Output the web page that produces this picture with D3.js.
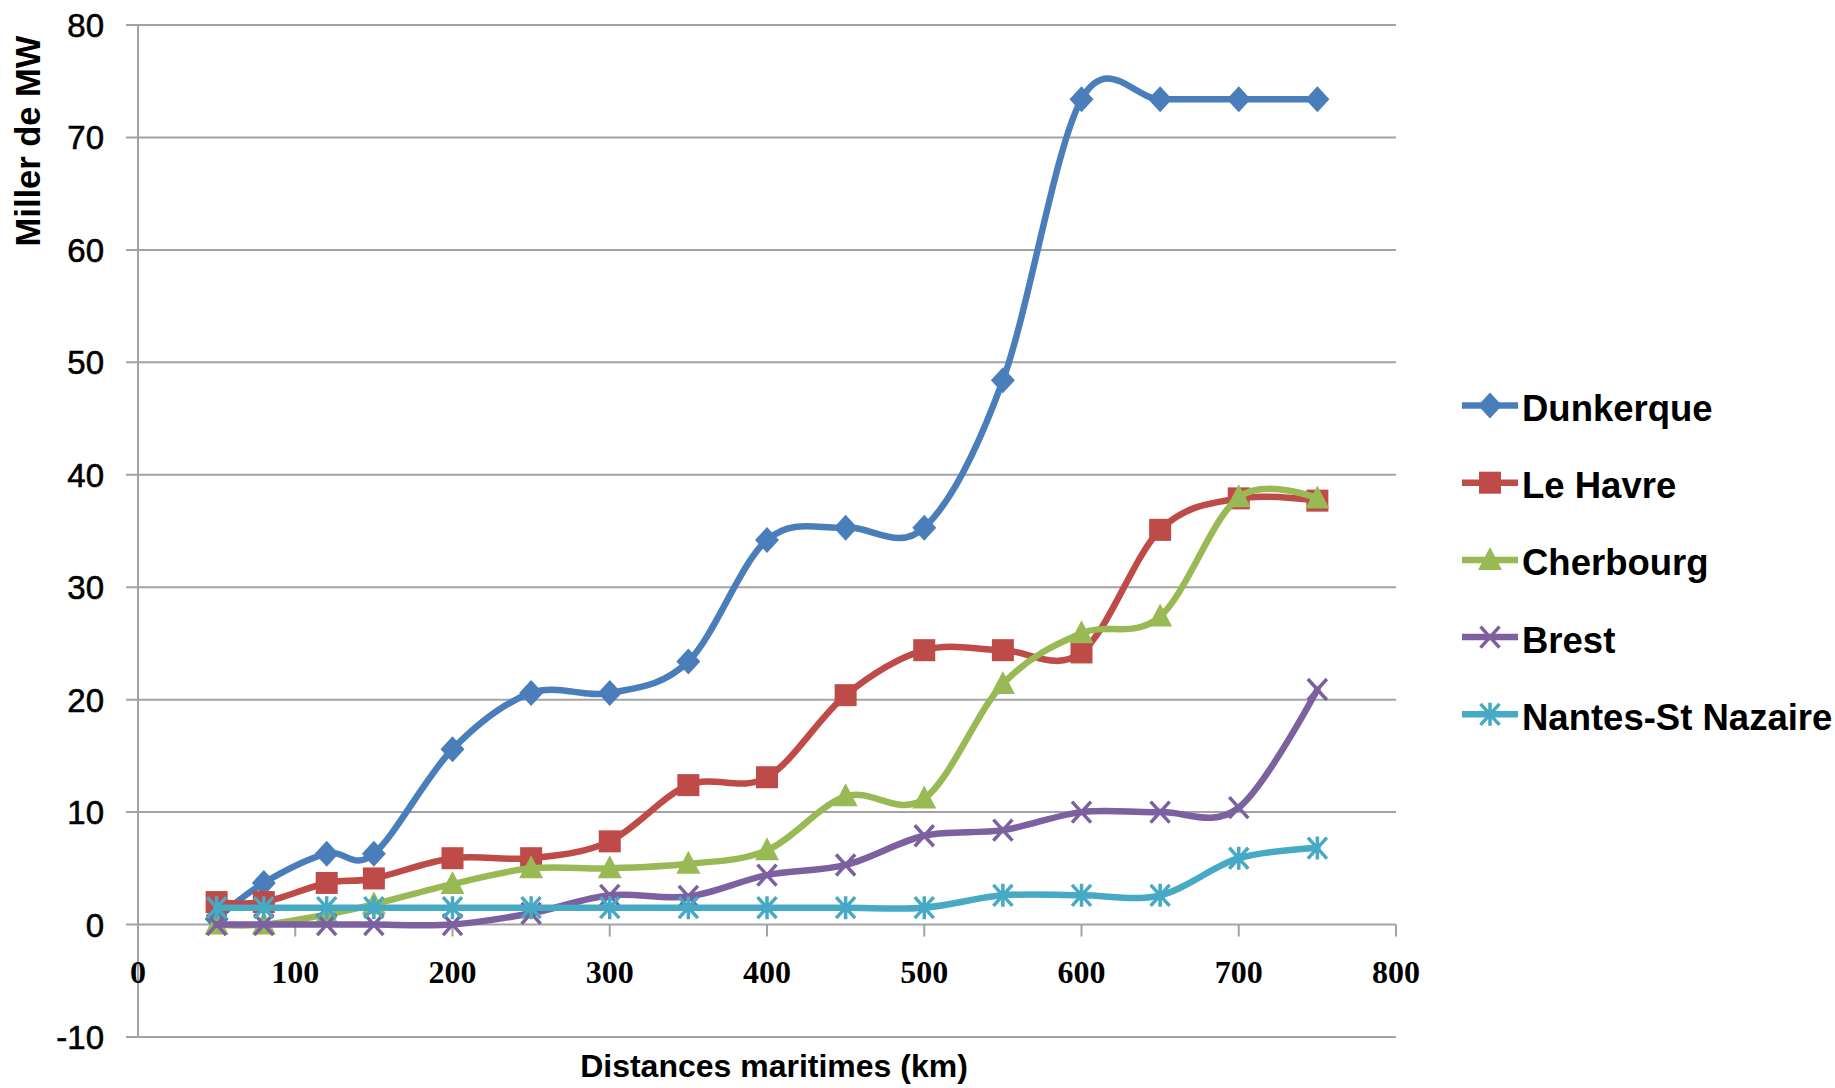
<!DOCTYPE html>
<html>
<head>
<meta charset="utf-8">
<script src="https://cdn.jsdelivr.net/npm/d3@7"></script>
<style>
  html, body { margin: 0; padding: 0; background: #ffffff; }
  svg { display: block; }
</style>
</head>
<body>
<svg id="chart" width="1835" height="1088"></svg>
<script>
// ---- Data ----
const distances = [50, 80, 120, 150, 200, 250, 300, 350, 400, 450, 500, 550, 600, 650, 700, 750];
const dunkerque = [0.5, 3.7, 6.3, 6.3, 15.6, 20.6, 20.6, 23.4, 34.2, 35.3, 35.3, 48.4, 73.4, 73.4, 73.4, 73.4];
const leHavre   = [2.0, 2.0, 3.7, 4.1, 5.9, 5.9, 7.4, 12.4, 13.1, 20.4, 24.4, 24.4, 24.2, 35.1, 37.9, 37.7];
const cherbourg = [0, 0, 0.9, 1.8, 3.6, 5.0, 5.0, 5.4, 6.6, 11.4, 11.2, 21.4, 25.9, 27.4, 38.0, 37.9];
const brest     = [0, 0, 0, 0, 0, 1.0, 2.6, 2.5, 4.4, 5.3, 7.9, 8.4, 10.0, 10.0, 10.4, 20.9];
const nantes    = [1.5, 1.5, 1.5, 1.5, 1.5, 1.5, 1.5, 1.5, 1.5, 1.5, 1.5, 2.6, 2.6, 2.6, 5.9, 6.8];

const seriesNames = ["Dunkerque", "Le Havre", "Cherbourg", "Brest", "Nantes-St Nazaire"];
const seriesValues = [dunkerque, leHavre, cherbourg, brest, nantes];
const seriesColors = ["#4A7EBB", "#BE4B48", "#98B954", "#7D60A0", "#46AAC5"];
const seriesMarkers = ["diamond", "square", "triangle", "x", "star"];

const xTicks = [0, 100, 200, 300, 400, 500, 600, 700, 800];
const yTicks = [-10, 0, 10, 20, 30, 40, 50, 60, 70, 80];

const xTitle = "Distances maritimes (km)";
const yTitle = "Miller de MW";

// ---- Layout ----
const svg = d3.select("#chart");
const x = d3.scaleLinear().domain([0, 800]).range([138, 1396]);
const y = d3.scaleLinear().domain([-10, 80]).range([1037, 25]);
const gridColor = "#a3a3a3";

// Gridlines (with outside tick stubs on the left)
svg.append("g").selectAll("line").data(yTicks).join("line")
  .attr("x1", 126).attr("x2", x(800))
  .attr("y1", d => y(d)).attr("y2", d => y(d))
  .attr("stroke", gridColor).attr("stroke-width", 2);

// Vertical axis line
svg.append("line")
  .attr("x1", x(0)).attr("x2", x(0))
  .attr("y1", y(80)).attr("y2", y(-10))
  .attr("stroke", gridColor).attr("stroke-width", 2);

// X tick marks (hanging below the zero line)
svg.append("g").selectAll("line").data(xTicks).join("line")
  .attr("x1", d => x(d)).attr("x2", d => x(d))
  .attr("y1", y(0)).attr("y2", y(0) + 12)
  .attr("stroke", gridColor).attr("stroke-width", 2);

// Y tick labels
svg.append("g").selectAll("text").data(yTicks).join("text")
  .attr("x", 104).attr("y", d => y(d) + 12)
  .attr("text-anchor", "end")
  .attr("font-family", "Liberation Sans, Arial, sans-serif")
  .attr("font-size", 33)
  .attr("fill", "#000")
  .attr("stroke", "#000").attr("stroke-width", 0.6)
  .text(d => d);

// X tick labels
svg.append("g").selectAll("text").data(xTicks).join("text")
  .attr("x", d => x(d)).attr("y", 983)
  .attr("text-anchor", "middle")
  .attr("font-family", "Liberation Serif, Times New Roman, serif")
  .attr("font-weight", "bold")
  .attr("font-size", 32)
  .attr("fill", "#000")
  .text(d => d);

// Axis titles
svg.append("text")
  .attr("x", 774).attr("y", 1077)
  .attr("text-anchor", "middle")
  .attr("font-family", "Liberation Sans, Arial, sans-serif")
  .attr("font-weight", "bold")
  .attr("font-size", 32)
  .attr("fill", "#000")
  .text(xTitle);

svg.append("text")
  .attr("transform", "translate(40,141) rotate(-90)")
  .attr("text-anchor", "middle")
  .attr("font-family", "Liberation Sans, Arial, sans-serif")
  .attr("font-weight", "bold")
  .attr("font-size", 34.5)
  .attr("fill", "#000")
  .text(yTitle);

// Marker drawing
function drawMarker(g, type, cx, cy, color) {
  if (type === "diamond") {
    g.append("path")
      .attr("d", `M${cx},${cy - 13}L${cx + 12},${cy}L${cx},${cy + 13}L${cx - 12},${cy}Z`)
      .attr("fill", color);
  } else if (type === "square") {
    g.append("rect")
      .attr("x", cx - 11).attr("y", cy - 11).attr("width", 22).attr("height", 22)
      .attr("fill", color);
  } else if (type === "triangle") {
    g.append("path")
      .attr("d", `M${cx},${cy - 13}L${cx + 12},${cy + 10}L${cx - 12},${cy + 10}Z`)
      .attr("fill", color);
  } else if (type === "x" || type === "star") {
    const dx = 9.5, dy = 10.5;
    g.append("path")
      .attr("d", `M${cx - dx},${cy - dy}L${cx + dx},${cy + dy}M${cx - dx},${cy + dy}L${cx + dx},${cy - dy}` +
        (type === "star" ? `M${cx},${cy - dy - 1}L${cx},${cy + dy + 1}` : ""))
      .attr("fill", "none").attr("stroke", color).attr("stroke-width", 3.5);
  }
}

// Series
const line = d3.line()
  .x(d => x(d[0]))
  .y(d => y(d[1]))
  .curve(d3.curveCatmullRom.alpha(0));

seriesValues.forEach((vals, i) => {
  const g = svg.append("g");
  const pts = distances.map((d, j) => [d, vals[j]]);
  g.append("path")
    .attr("d", line(pts))
    .attr("fill", "none")
    .attr("stroke", seriesColors[i])
    .attr("stroke-width", 6.5)
    .attr("stroke-linejoin", "round")
    .attr("stroke-linecap", "round");
  pts.forEach(p => drawMarker(g, seriesMarkers[i], x(p[0]), y(p[1]), seriesColors[i]));
});

// Legend
const legendY0 = 405.5, legendStep = 77.2;
seriesNames.forEach((name, i) => {
  const g = svg.append("g");
  const cy = legendY0 + i * legendStep;
  g.append("line")
    .attr("x1", 1462).attr("x2", 1518)
    .attr("y1", cy).attr("y2", cy)
    .attr("stroke", seriesColors[i]).attr("stroke-width", 6.5);
  drawMarker(g, seriesMarkers[i], 1490, cy, seriesColors[i]);
  g.append("text")
    .attr("x", 1522).attr("y", cy + 15.5)
    .attr("font-family", "Liberation Sans, Arial, sans-serif")
    .attr("font-weight", "bold")
    .attr("font-size", 36.5)
    .attr("fill", "#000")
    .text(name);
});
</script>
</body>
</html>
